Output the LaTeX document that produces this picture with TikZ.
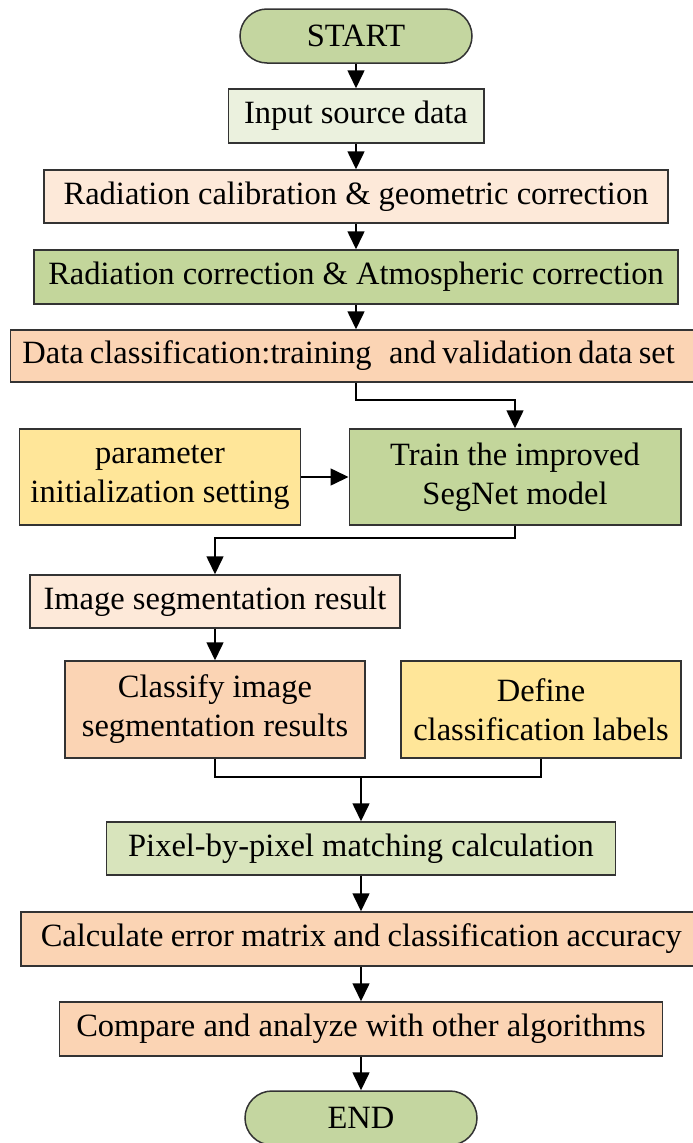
\documentclass[tikz,border=0pt]{standalone}
\usepackage{fontspec}
\setmainfont{Liberation Serif}
\usetikzlibrary{arrows.meta}

\definecolor{termgreen}{HTML}{C4D6A0}
\definecolor{palegreen}{HTML}{EBF1DE}
\definecolor{lightgreen}{HTML}{D8E4BC}
\definecolor{olivegreen}{HTML}{C3D69B}
\definecolor{palepeach}{HTML}{FDE9D9}
\definecolor{peach}{HTML}{FBD4B4}
\definecolor{softyellow}{HTML}{FFE699}

% slightly narrower word spacing for the wide single-line boxes
\newcommand{\tightline}[2][0.225em]{\mbox{\spaceskip=#1 plus 0.02em\relax #2}}

\begin{document}
\begin{tikzpicture}[x=1pt, y=-1pt,
  box/.style={draw=black!80, line width=1.5pt, inner sep=0pt, align=center,
    font=\fontsize{32.5}{39}\selectfont},
  term/.style={box, fill=termgreen, rounded corners=27pt,
    minimum width=232pt, minimum height=54pt},
  conn/.style={line width=1.6pt, draw=black},
  arr/.style={conn, -{Triangle[length=18pt,width=17pt]}}
]
\useasboundingbox (0,0) rectangle (693,1143);
\clip (0,0) rectangle (693,1143);

% main processing column
\node[term] (start) at (356,36) {START};
\node[box, fill=palegreen, minimum width=255.5pt, minimum height=54pt]
  (input) at (356,116) {Input source data};
\node[box, fill=palepeach, minimum width=624pt, minimum height=53pt]
  (calib) at (356,196.5) {Radiation calibration \& geometric correction};
\node[box, fill=olivegreen, minimum width=644pt, minimum height=54pt]
  (atmo) at (356,277) {Radiation correction \& Atmospheric correction};
\node[box, fill=peach, minimum width=720pt, minimum height=52pt,
  anchor=west, text width=696pt, align=left]
  (dataclass) at (9.7,356) {\tightline[0.19em]{Data classification:training\hspace{0.35em} and validation data set}};

% training stage
\node[box, fill=softyellow, minimum width=281pt, minimum height=96pt]
  (param) at (160,477) {parameter\\initialization setting};
\node[box, fill=olivegreen, minimum width=331.5pt, minimum height=96pt]
  (train) at (515,477) {Train the improved\\SegNet model};

% segmentation and labelling
\node[box, fill=palepeach, minimum width=370pt, minimum height=53pt]
  (imgseg) at (215,601.5) {Image segmentation result};
\node[box, fill=peach, minimum width=300pt, minimum height=97pt]
  (classify) at (215,709.5) {Classify image\\segmentation results};
\node[box, fill=softyellow, minimum width=280pt, minimum height=97pt]
  (define) at (541,709.5) {Define\\classification labels};

% evaluation
\node[box, fill=lightgreen, minimum width=509pt, minimum height=53pt]
  (pixel) at (361,848.5) {Pixel-by-pixel matching calculation};
\node[box, fill=peach, minimum width=700pt, minimum height=54pt,
  anchor=west, text width=660pt, align=left]
  (calc) at (20,939) {\tightline{Calculate error matrix and classification accuracy}};
\node[box, fill=peach, minimum width=603pt, minimum height=54pt]
  (compare) at (361,1029) {Compare and analyze with other algorithms};
\node[term] (end) at (361,1118) {END};

\coordinate (join) at (361,777);

% connectors
\draw[arr] (start) -- (input);
\draw[arr] (input) -- (calib);
\draw[arr] (calib) -- (atmo);
\draw[arr] (atmo) -- (atmo.south |- dataclass.north);
\draw[arr] (dataclass.south -| atmo) -- ++(0,17) -| (train.north);
\draw[arr] (param) -- (train);
\draw[arr] (train.south) -- ++(0,12) -| (imgseg.north);
\draw[arr] (imgseg) -- (classify);
\draw[conn] (classify.south) -- (classify.south |- join) -- (define.south |- join) -- (define.south);
\draw[arr] (join) -- (pixel.north);
\draw[arr] (pixel.south) -- (pixel.south |- calc.north);
\draw[arr] (pixel.south |- calc.south) -- (compare.north);
\draw[arr] (compare) -- (end);
\end{tikzpicture}
\end{document}
